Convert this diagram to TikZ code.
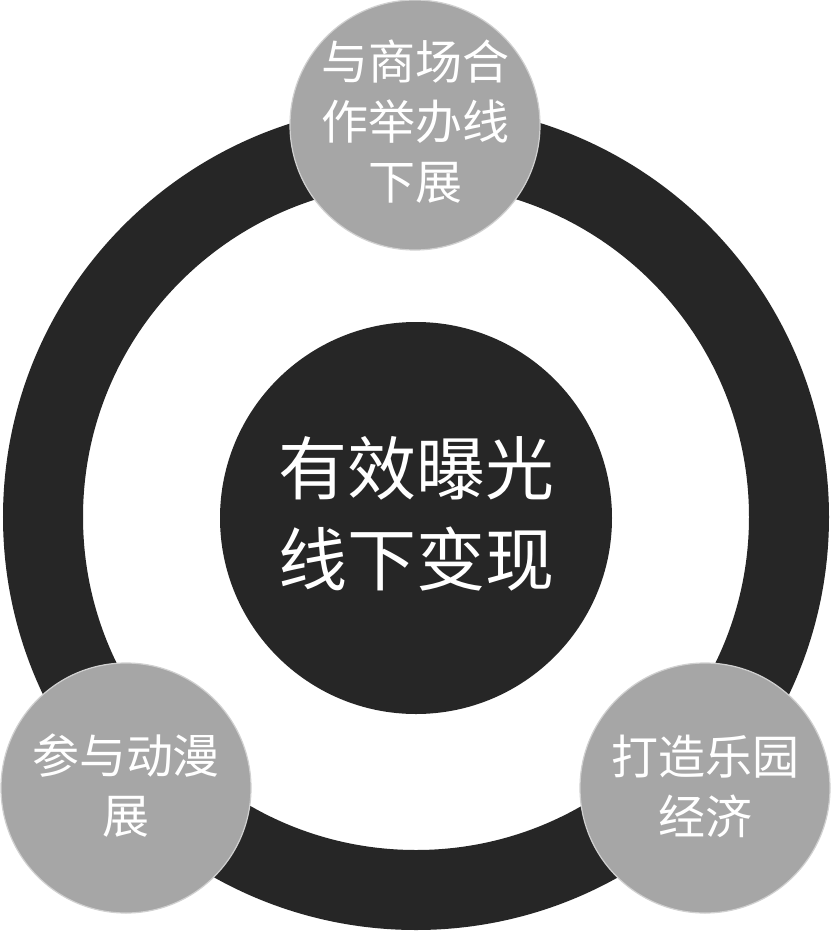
\documentclass[tikz,border=0pt]{standalone}
\usepackage{fontspec}
\setmainfont{Noto Sans CJK SC}
\begin{document}
\begin{tikzpicture}[x=1pt,y=-1pt,
  ringstyle/.style={draw=ringdark,line width=80pt},
  hub/.style={circle,fill=ringdark,minimum size=392pt,inner sep=0pt},
  hubtext/.style={text=white,align=center,inner sep=0pt,font=\fontsize{69}{91}\selectfont},
  sat/.style={circle,fill=satgray,draw=satedge,line width=1.2pt,minimum size=250pt,inner sep=0pt},
  sattext/.style={text=white,align=center,inner sep=0pt,font=\fontsize{47}{60}\selectfont}]
\definecolor{ringdark}{HTML}{262626}
\definecolor{satgray}{HTML}{A6A6A6}
\definecolor{satedge}{HTML}{D0D0D0}
\useasboundingbox (0,0) rectangle (831,935);
\fill[white] (0,0) rectangle (831,935);
\coordinate (c) at (416,517);
\draw[ringstyle] (c) circle[radius=373];
\node[hub] (hubnode) at (416,518) {};
\node[hubtext,yshift=4pt] (hubtxt) at (hubnode.center) {有效曝光\\线下变现};
\node[sat] (top) at (415,125) {};
\node[sattext,yshift=3pt] (toptxt) at (top.center) {与商场合\\作举办线\\下展};
\node[sat] (bl) at (126,788) {};
\node[sattext,yshift=2pt] (bltxt) at (bl.center) {参与动漫\\展};
\node[sat] (br) at (705,788) {};
\node[sattext,yshift=2pt] (brtxt) at (br.center) {打造乐园\\经济};
\end{tikzpicture}
\end{document}
